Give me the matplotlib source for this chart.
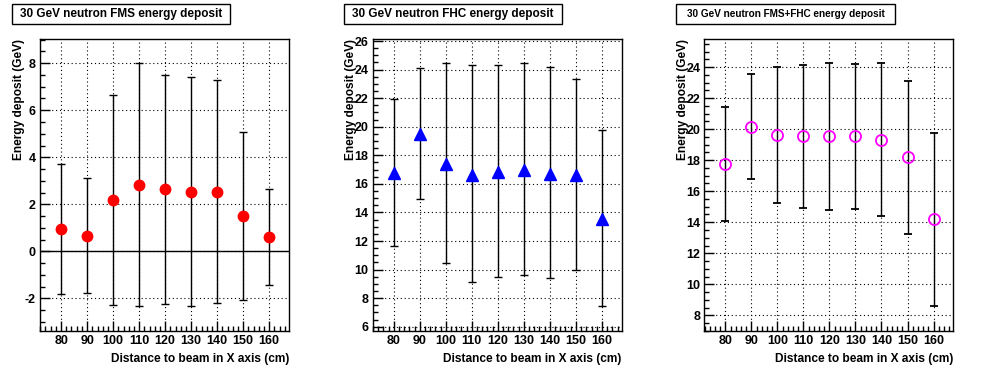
import numpy as np
import matplotlib
matplotlib.use('Agg')
import matplotlib.pyplot as plt
from matplotlib.patches import Rectangle
from matplotlib.ticker import MultipleLocator

plt.rcParams['font.family'] = ['Liberation Sans', 'DejaVu Sans']
plt.rcParams['font.weight'] = 'bold'
plt.rcParams['axes.unicode_minus'] = False

distance = [80, 90, 100, 110, 120, 130, 140, 150, 160]

# FMS deposit (GeV): mean and error
fms_mean = [0.94, 0.66, 2.17, 2.84, 2.64, 2.54, 2.54, 1.50, 0.60]
fms_err = [2.77, 2.45, 4.47, 5.17, 4.88, 4.87, 4.74, 3.59, 2.05]

# FHC deposit
fhc_mean = [16.75, 19.48, 17.40, 16.60, 16.84, 16.96, 16.68, 16.60, 13.53]
fhc_lo = [11.68, 14.93, 10.44, 9.11, 9.48, 9.60, 9.39, 10.00, 7.45]
fhc_hi = [21.94, 24.08, 24.46, 24.32, 24.32, 24.46, 24.18, 23.34, 19.78]

# FMS+FHC deposit
sum_mean = [17.74, 20.17, 19.61, 19.55, 19.55, 19.55, 19.29, 18.21, 14.19]
sum_lo = [14.06, 16.81, 15.23, 14.92, 14.81, 14.88, 14.39, 13.23, 8.60]
sum_hi = [21.42, 23.55, 23.98, 24.13, 24.26, 24.19, 24.24, 23.10, 19.78]

titles = ['30 GeV neutron FMS energy deposit',
          '30 GeV neutron FHC energy deposit',
          '30 GeV neutron FMS+FHC energy deposit']
xlabel = 'Distance to beam in X axis (cm)'
ylabel = 'Energy deposit (GeV)'

fig = plt.figure(figsize=(9.96, 3.72), dpi=100)
W, H = 996.0, 372.0

lefts = [40, 372.7, 704.3]
axes = [fig.add_axes([l / W, 41 / H, 249 / W, 292 / H]) for l in lefts]

x = np.array(distance)


def errs(mean, lo, hi):
    m = np.array(mean)
    return [m - np.array(lo), np.array(hi) - m]


fms_m = np.array(fms_mean)
fms_e = np.array(fms_err)
fms_yerr = [fms_e, fms_e]

eb = dict(ecolor='black', elinewidth=1.0, capsize=3, capthick=1.0, linestyle='none')
axes[0].errorbar(x, fms_m, yerr=fms_yerr, fmt='o', color='red', markersize=7.5, zorder=3, **eb)
axes[1].errorbar(x, fhc_mean, yerr=errs(fhc_mean, fhc_lo, fhc_hi), fmt='^', color='blue',
                 markersize=8, zorder=3, **eb)
axes[2].errorbar(x, sum_mean, yerr=errs(sum_mean, sum_lo, sum_hi), fmt='o', mfc='none',
                 mec='magenta', mew=1.3, markersize=8, zorder=3, **eb)

axes[0].axhline(0, color='black', lw=1.0, zorder=2)

ylims = [(-3.39, 9.03), (5.70, 26.14), (6.99, 25.81)]

for ax, yl in zip(axes, ylims):
    ax.set_xlim(71.9, 167.6)
    ax.set_ylim(*yl)
    ax.xaxis.set_minor_locator(MultipleLocator(2))
    ax.yaxis.set_major_locator(MultipleLocator(2))
    ax.yaxis.set_minor_locator(MultipleLocator(0.5))
    ax.set_xticks(distance)
    ax.tick_params(which='both', direction='in', top=False, right=False)
    ax.tick_params(which='major', length=7, width=1, labelsize=9, pad=3)
    ax.tick_params(which='minor', length=3.5, width=1)
    for lab in ax.get_xticklabels() + ax.get_yticklabels():
        lab.set_fontweight('bold')
    ax.grid(True, which='major', color='black', linestyle=(0, (1, 2.5)), linewidth=0.8)
    for s in ax.spines.values():
        s.set_linewidth(1.0)
    ax.set_xlabel(xlabel, fontsize=8.6, fontweight='bold', loc='right', labelpad=4)
    ax.set_ylabel(ylabel, fontsize=8.6, fontweight='bold', loc='top')
    ax.yaxis.set_label_coords(-0.062, 1.0)

# title boxes
boxes = [(12, 230), (344, 562), (676, 895)]
tsizes = [8.5, 8.5, 7.2]
for (x0, x1), t, fs in zip(boxes, titles, tsizes):
    fig.patches.append(Rectangle((x0 / W, 1 - 24 / H), (x1 - x0) / W, 20 / H,
                                 transform=fig.transFigure, facecolor='white',
                                 edgecolor='black', linewidth=1.0))
    fig.text((x0 + x1) / 2 / W, 1 - 14 / H, t, ha='center', va='center',
             fontsize=fs, fontweight='bold')

fig.savefig('out.png', dpi=100)
